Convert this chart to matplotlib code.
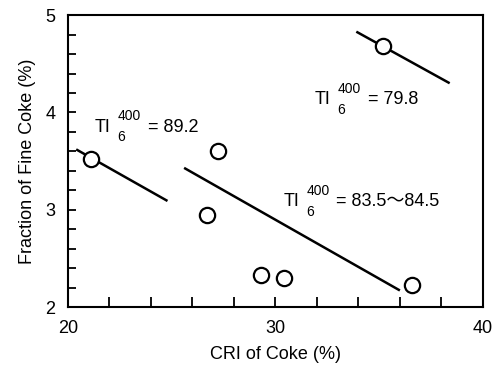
import matplotlib
matplotlib.use('Agg')
import matplotlib.pyplot as plt
import numpy as np

plt.rcParams['font.family'] = ['Liberation Sans', 'Noto Sans CJK JP', 'DejaVu Sans']

# measured points: CRI of coke vs fraction of fine coke
cri = [21.1, 27.25, 26.7, 29.3, 30.4, 36.6, 35.2]
fine = [3.52, 3.60, 2.95, 2.33, 2.30, 2.23, 4.68]

# trend lines, one per TI group (x ends, y ends)
line_x = [[20.4, 24.8], [25.6, 36.0], [33.9, 38.4]]
line_y = [[3.62, 3.09], [3.43, 2.17], [4.83, 4.30]]

# labels: anchor (x, y) and value text
label_pos = [(21.3, 3.85), (31.9, 4.13), (30.4, 3.08)]
label_val = ['89.2', '79.8', '83.5～84.5']

fig = plt.figure(figsize=(5.03, 3.69), dpi=100)
ax = fig.add_axes([0.135, 0.168, 0.825, 0.791])

for lx, ly in zip(line_x, line_y):
    ax.plot(lx, ly, color='black', lw=1.8, solid_capstyle='butt', zorder=2)

ax.plot(cri, fine, 'o', ms=11, mfc='white', mec='black', mew=1.6, zorder=3)

# TI_6^400 = value
def ti_label(x, y, val):
    kw = dict(xycoords='data', textcoords='offset points', va='center', ha='left')
    ax.annotate('TI', (x, y), xytext=(0, 0), fontsize=13, **kw)
    ax.annotate('400', (x, y), xytext=(16.5, 8), fontsize=10, **kw)
    ax.annotate('6', (x, y), xytext=(16, -7.5), fontsize=10, **kw)
    ax.annotate('= ' + val, (x, y), xytext=(38, 0), fontsize=13, **kw)

for (x, y), v in zip(label_pos, label_val):
    ti_label(x, y, v)

ax.set_xlim(20, 40)
ax.set_ylim(2, 5)
ax.set_xticks([20, 30, 40])
ax.set_xticks(np.arange(20, 40, 2), minor=True)
ax.set_yticks([2, 3, 4, 5])
ax.set_yticks(np.arange(2, 5, 0.2), minor=True)
ax.tick_params(which='both', direction='in', width=1.3, labelsize=13, pad=9)
ax.tick_params(axis='x', which='both', length=7)
ax.tick_params(axis='y', which='both', length=6)
for s in ax.spines.values():
    s.set_linewidth(1.5)

ax.set_xlabel('CRI of Coke (%)', fontsize=13, labelpad=7)
ax.set_ylabel('Fraction of Fine Coke (%)', fontsize=13, labelpad=7)

fig.savefig('out.png', dpi=100)
